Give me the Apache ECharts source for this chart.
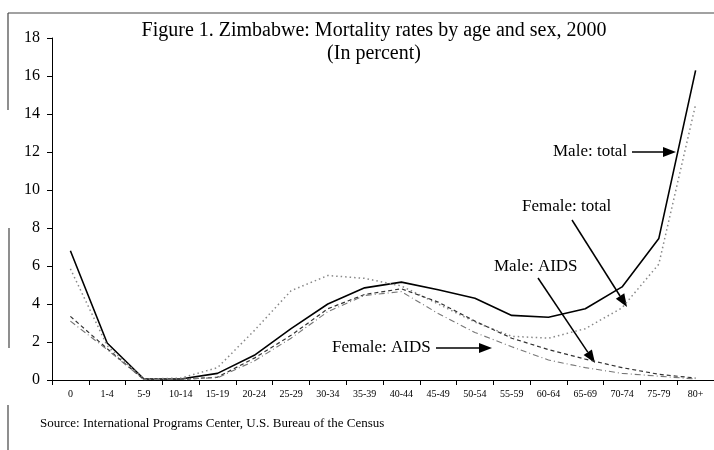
<!DOCTYPE html>
<html>
<head>
<meta charset="utf-8">
<script src="https://cdn.jsdelivr.net/npm/echarts@6/dist/echarts.min.js"></script>
<style>
  html, body { margin: 0; padding: 0; background: #fff; }
  #main { width: 714px; height: 450px; }
</style>
</head>
<body>
<div id="main"></div>
<script>
// age groups
var ages = ['0', '1-4', '5-9', '10-14', '15-19', '20-24', '25-29', '30-34', '35-39',
    '40-44', '45-49', '50-54', '55-59', '60-64', '65-69', '70-74', '75-79', '80+'];

// mortality rates, percent
var maleTotal = [6.8, 1.95, 0.05, 0.05, 0.35, 1.3, 2.7, 4.0, 4.85, 5.15, 4.75, 4.3, 3.4, 3.3, 3.75, 4.9, 7.45, 16.3];
var femaleTotal = [5.85, 1.8, 0.05, 0.1, 0.65, 2.6, 4.7, 5.5, 5.35, 4.95, 4.0, 3.05, 2.3, 2.2, 2.7, 3.8, 6.1, 14.5];
var maleAids = [3.35, 1.65, 0.02, 0.03, 0.15, 1.15, 2.35, 3.75, 4.5, 4.8, 4.1, 3.1, 2.2, 1.6, 1.1, 0.65, 0.3, 0.1];
var femaleAids = [3.1, 1.6, 0.02, 0.05, 0.12, 1.0, 2.2, 3.6, 4.45, 4.65, 3.5, 2.5, 1.75, 1.05, 0.65, 0.35, 0.2, 0.05];

var serif = 'Liberation Serif';

// arrow = line + triangle head
function arrow(x1, y1, x2, y2) {
    var a = Math.atan2(y2 - y1, x2 - x1), L = 13, W = 5;
    var bx = x2 - L * Math.cos(a), by = y2 - L * Math.sin(a);
    var nx = -Math.sin(a) * W, ny = Math.cos(a) * W;
    return [
        { type: 'line', shape: { x1: x1, y1: y1, x2: bx, y2: by }, style: { stroke: '#000', lineWidth: 1.5 } },
        { type: 'polygon', shape: { points: [[x2, y2], [bx + nx, by + ny], [bx - nx, by - ny]] }, style: { fill: '#000' } }
    ];
}

function label(x, y, t) {
    return { type: 'text', x: x, y: y, style: { text: t, font: '17px "' + serif + '"', fill: '#000', textVerticalAlign: 'middle' } };
}

var graphics = [
    // scanned frame
    { type: 'line', shape: { x1: 8, y1: 13, x2: 714, y2: 13 }, style: { stroke: '#444', lineWidth: 1.2 } },
    { type: 'line', shape: { x1: 8, y1: 13, x2: 8, y2: 110 }, style: { stroke: '#444', lineWidth: 1.2 } },
    { type: 'line', shape: { x1: 9, y1: 228, x2: 9, y2: 348 }, style: { stroke: '#444', lineWidth: 1.2 } },
    { type: 'line', shape: { x1: 8, y1: 405, x2: 8, y2: 450 }, style: { stroke: '#444', lineWidth: 1.2 } },
    label(553, 152, 'Male: total'),
    label(522, 207, 'Female: total'),
    label(494, 267, 'Male: AIDS'),
    label(332, 348, 'Female: AIDS'),
    { type: 'text', left: 40, top: 417, style: { text: 'Source: International Programs Center, U.S. Bureau of the Census', font: '13px "' + serif + '"', fill: '#000' } }
];
graphics = graphics.concat(arrow(632, 152, 676, 152));
graphics = graphics.concat(arrow(572, 220, 627, 307));
graphics = graphics.concat(arrow(538, 278, 595, 363));
graphics = graphics.concat(arrow(436, 348, 492, 348));

var myChart = echarts.init(document.getElementById('main'));

myChart.setOption({
    animation: false,
    backgroundColor: '#fff',
    title: {
        text: 'Figure 1. Zimbabwe: Mortality rates by age and sex, 2000',
        subtext: '(In percent)',
        left: 369,
        textAlign: 'center',
        top: 16,
        itemGap: 3,
        textStyle: { fontFamily: serif, fontSize: 20, fontWeight: 'normal', color: '#000' },
        subtextStyle: { fontFamily: serif, fontSize: 20, color: '#000' }
    },
    grid: { left: 52, top: 38, bottom: 70, right: -4 },
    xAxis: {
        type: 'category',
        data: ages,
        boundaryGap: true,
        axisLine: { lineStyle: { color: '#000', width: 1 } },
        axisTick: { show: true, length: 5, lineStyle: { color: '#000' } },
        axisLabel: { interval: 0, margin: 9, fontFamily: serif, fontSize: 10, color: '#000' },
        splitLine: { show: false }
    },
    yAxis: {
        type: 'value',
        min: 0,
        max: 18,
        interval: 2,
        axisLine: { show: true, lineStyle: { color: '#000', width: 1 } },
        axisTick: { show: true, length: 5, lineStyle: { color: '#000' } },
        axisLabel: { margin: 12, fontFamily: serif, fontSize: 16, color: '#000' },
        splitLine: { show: false }
    },
    series: [
        {
            name: 'Male: total', type: 'line', data: maleTotal, showSymbol: false,
            lineStyle: { color: '#000', width: 1.6, type: 'solid' }
        },
        {
            name: 'Female: total', type: 'line', data: femaleTotal, showSymbol: false,
            lineStyle: { color: '#888', width: 1.5, type: [1.5, 3] }
        },
        {
            name: 'Male: AIDS', type: 'line', data: maleAids, showSymbol: false,
            lineStyle: { color: '#333', width: 1.2, type: [4, 3] }
        },
        {
            name: 'Female: AIDS', type: 'line', data: femaleAids, showSymbol: false,
            lineStyle: { color: '#777', width: 1.1, type: [6, 3, 1, 3] }
        }
    ],
    graphic: graphics
});
</script>
</body>
</html>
